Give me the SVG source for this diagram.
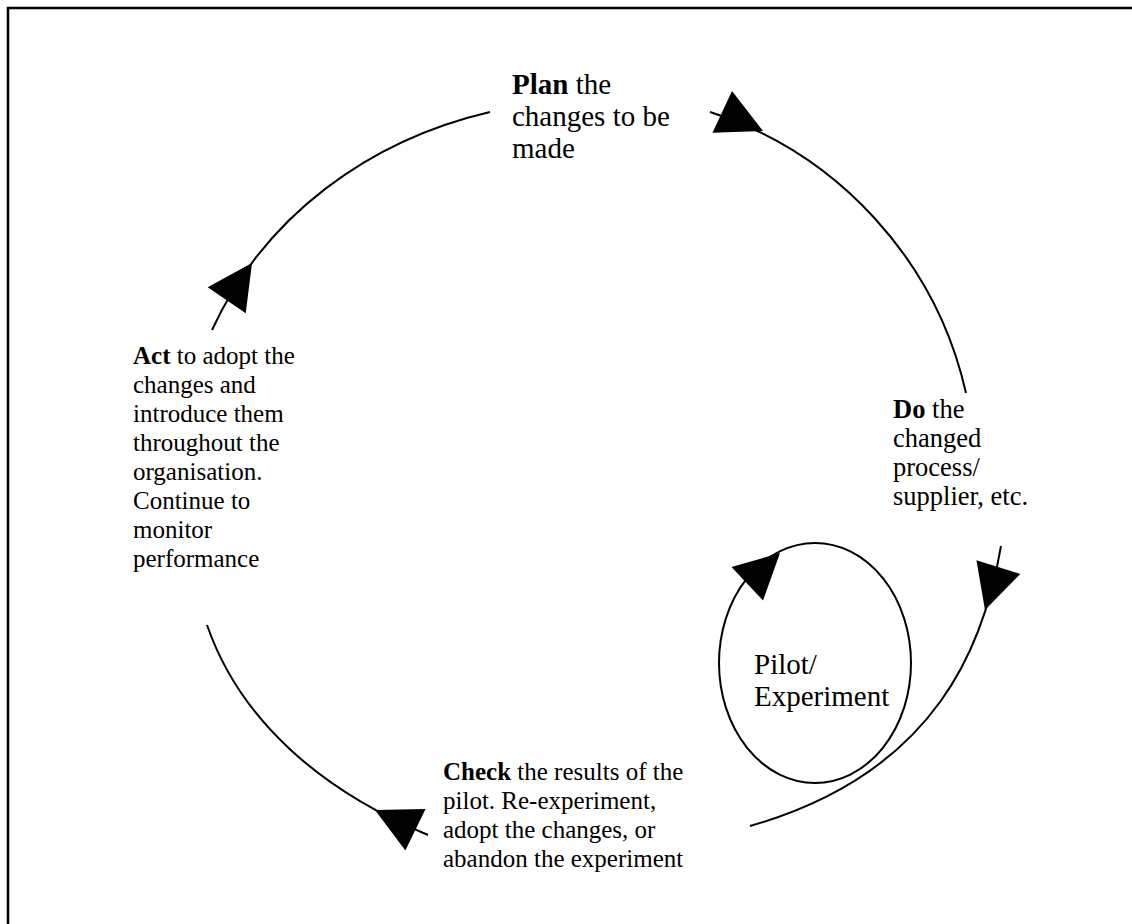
<svg xmlns="http://www.w3.org/2000/svg" xmlns:xlink="http://www.w3.org/1999/xlink" width="1132" height="924" viewBox="0 0 1132 924">
  <style>
    .frame { fill: none; stroke: #000; stroke-width: 2.5; }
    .arc { fill: none; stroke: #000; stroke-width: 2; }
    .head { fill: #000; stroke: none; }
    text { font-family: "Liberation Serif", "Times New Roman", serif; font-size: 25px; fill: #000; }
    .big text { font-size: 29px; }
    .mid text { font-size: 26.5px; }
    .b { font-weight: bold; }
  </style>
  <defs>
    <!-- arrowhead, tip at the origin, pointing along +x -->
    <path id="ah" class="head" d="M0,0 L-45,-23 L-45,23 Z"/>
  </defs>

  <rect width="1132" height="924" fill="#fff"/>
  <path class="frame" d="M8,924 V8 H1132"/>

  <g id="connectors">
    <!-- Act to Plan -->
    <path class="arc" d="M212,330 C265,215 370,140 490,112"/>
    <use xlink:href="#ah" transform="translate(252,263) rotate(-55.8)"/>
    <!-- Plan to Do -->
    <path class="arc" d="M710,112 A385,385 0 0 1 966,393"/>
    <use xlink:href="#ah" transform="translate(763,131) rotate(25.1)"/>
    <!-- Do to Check -->
    <path class="arc" d="M1001,546 C985,640 940,772 750,826"/>
    <use xlink:href="#ah" transform="translate(985,610) rotate(107.3)"/>
    <!-- Check to Act -->
    <path class="arc" d="M207,625 C240,720 320,790 428,835"/>
    <use xlink:href="#ah" transform="translate(375,810) rotate(206)"/>
    <!-- pilot loop -->
    <ellipse class="arc" cx="815" cy="663" rx="96" ry="120"/>
    <use xlink:href="#ah" transform="translate(780,553) rotate(-43.3)"/>
  </g>

  <g id="plan" class="big">
    <text x="512" y="94"><tspan class="b">Plan</tspan> the</text>
    <text x="512" y="126">changes to be</text>
    <text x="512" y="158">made</text>
  </g>

  <g id="do" class="mid">
    <text x="893" y="418"><tspan class="b">Do</tspan> the</text>
    <text x="893" y="447">changed</text>
    <text x="893" y="476">process/</text>
    <text x="893" y="505">supplier, etc.</text>
  </g>

  <g id="pilot" class="big">
    <text x="754" y="674">Pilot/</text>
    <text x="754" y="706">Experiment</text>
  </g>

  <g id="check">
    <text x="443" y="780"><tspan class="b">Check</tspan> the results of the</text>
    <text x="443" y="809">pilot. Re-experiment,</text>
    <text x="443" y="838">adopt the changes, or</text>
    <text x="443" y="867">abandon the experiment</text>
  </g>

  <g id="act">
    <text x="133" y="364"><tspan class="b">Act</tspan> to adopt the</text>
    <text x="133" y="393">changes and</text>
    <text x="133" y="422">introduce them</text>
    <text x="133" y="451">throughout the</text>
    <text x="133" y="480">organisation.</text>
    <text x="133" y="509">Continue to</text>
    <text x="133" y="538">monitor</text>
    <text x="133" y="567">performance</text>
  </g>
</svg>
